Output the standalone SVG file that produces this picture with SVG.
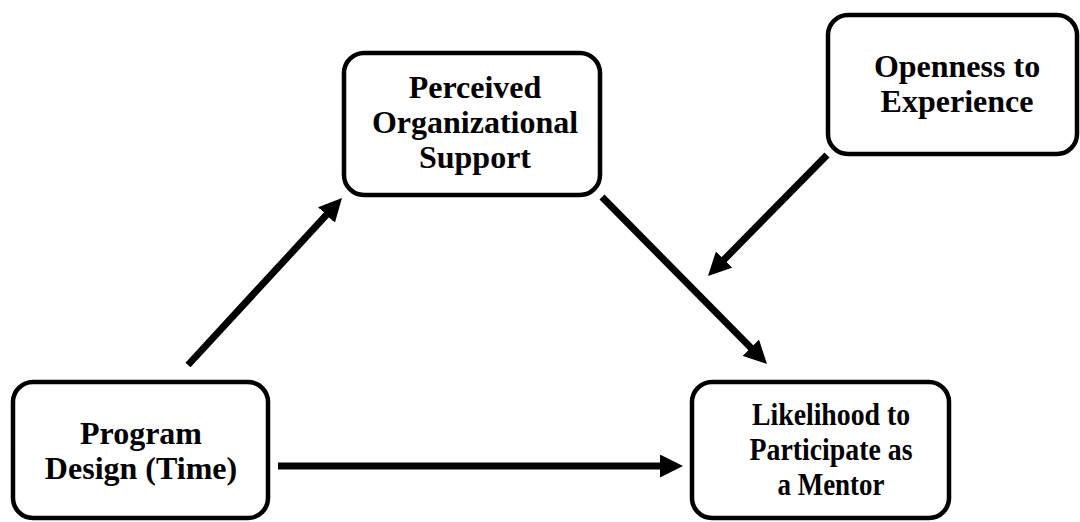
<svg xmlns="http://www.w3.org/2000/svg" width="1080" height="522" viewBox="0 0 1080 522">
  <style>
    .box { fill: #ffffff; stroke: #000000; stroke-width: 4.5; }
    .lbl { font-family: "Liberation Serif", "Times New Roman", serif; font-weight: bold; font-size: 32px; fill: #000000; text-anchor: middle; }
    .link { stroke: #000000; stroke-width: 7; fill: none; marker-end: url(#head); }
  </style>
  <defs>
    <marker id="head" markerUnits="userSpaceOnUse" viewBox="0 0 23 23" markerWidth="23" markerHeight="23" refX="1" refY="11.5" orient="auto">
      <path d="M0,0 L23,11.5 L0,23 Z" fill="#000000"/>
    </marker>
  </defs>
  <rect width="1080" height="522" fill="#ffffff"/>

  <g id="connectors">
    <line class="link" x1="188" y1="365" x2="327.1" y2="214.2"/>
    <line class="link" x1="602" y1="197" x2="751.5" y2="348.4"/>
    <line class="link" x1="827" y1="155" x2="723.4" y2="260.3"/>
    <line class="link" x1="278" y1="466" x2="661" y2="466"/>
  </g>

  <g id="node-pos">
    <rect class="box" x="344" y="53" width="256" height="142" rx="20"/>
    <text class="lbl" x="475" y="98">Perceived</text>
    <text class="lbl" x="475" y="133">Organizational</text>
    <text class="lbl" x="475" y="168">Support</text>
  </g>

  <g id="node-openness">
    <rect class="box" x="828" y="15" width="249" height="139" rx="20"/>
    <text class="lbl" x="957" y="77">Openness to</text>
    <text class="lbl" x="957" y="112">Experience</text>
  </g>

  <g id="node-program">
    <rect class="box" x="13" y="382" width="255" height="136" rx="20"/>
    <text class="lbl" x="141" y="444">Program</text>
    <text class="lbl" x="141" y="479">Design (Time)</text>
  </g>

  <g id="node-likelihood">
    <rect class="box" x="692" y="382" width="257" height="136" rx="20"/>
    <!-- narrower lettering in this box -->
    <text class="lbl" x="831" y="425" textLength="158" lengthAdjust="spacingAndGlyphs">Likelihood to</text>
    <text class="lbl" x="831" y="460" textLength="163" lengthAdjust="spacingAndGlyphs">Participate as</text>
    <text class="lbl" x="831" y="495" textLength="107" lengthAdjust="spacingAndGlyphs">a Mentor</text>
  </g>
</svg>
